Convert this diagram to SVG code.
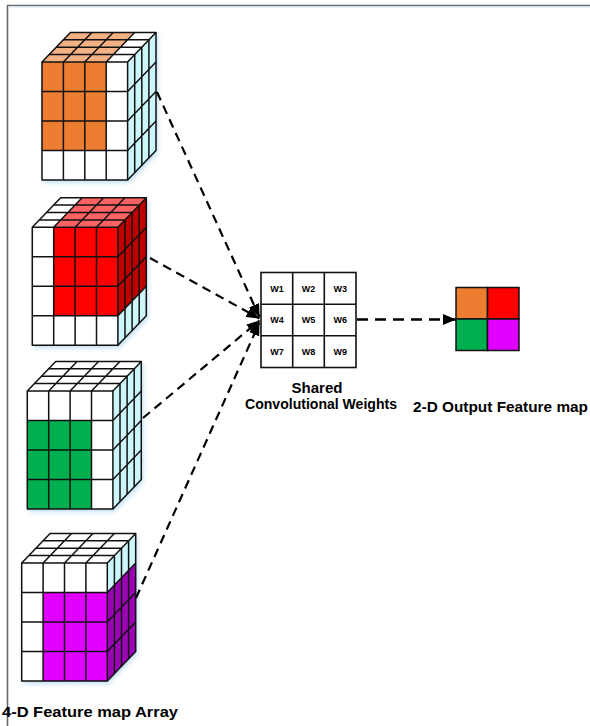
<svg xmlns="http://www.w3.org/2000/svg" xmlns:xlink="http://www.w3.org/1999/xlink" width="590" height="726" viewBox="0 0 590 726">
  <style>
    .grid { fill: none; stroke: #111; stroke-width: 1.5; stroke-linejoin: round; }
    .white { fill: #ffffff; }
    .cyan { fill: #cdf6fb; }
    .dash { fill: none; stroke: #000; stroke-width: 2.2; stroke-dasharray: 9 6; }
    .dash-out { fill: none; stroke: #000; stroke-width: 2.6; stroke-dasharray: 11 7; }
    .cell { stroke: #111; stroke-width: 1.5; }
    .w { font-family: "Liberation Sans", Arial, sans-serif; font-weight: bold; font-size: 9px; fill: #000; text-anchor: middle; }
    .label { font-family: "Liberation Sans", Arial, sans-serif; font-weight: bold; font-size: 15px; fill: #000; }
  </style>
  <defs>
    <marker id="head" viewBox="0 0 13 11" refX="13" refY="5.5" markerWidth="13" markerHeight="11" markerUnits="userSpaceOnUse" orient="auto">
      <path d="M0,0 L13,5.5 L0,11 Z" fill="#000"/>
    </marker>
    <filter id="glow" x="-20%" y="-20%" width="140%" height="140%">
      <feGaussianBlur stdDeviation="2.5"/>
    </filter>
    <!-- silhouette used for the soft blue shadow behind each cube -->
    <path id="silhouette" d="M0,0 L28.4,-29.6 H114 V88.4 L85.6,118 H0 Z"/>
    <!-- 4x4x4 block outline and cell lines, origin at front top-left corner -->
    <g id="cube-grid" class="grid">
      <path d="M0,0 H85.6 V118 H0 Z"/>
      <path d="M0,0 L28.4,-29.6 H114 L85.6,0"/>
      <path d="M114,-29.6 V88.4 L85.6,118"/>
      <path d="M21.4,0 V118 M42.8,0 V118 M64.2,0 V118 M0,29.5 H85.6 M0,59 H85.6 M0,88.5 H85.6"/>
      <path d="M7.1,-7.4 H92.7 M14.2,-14.8 H99.8 M21.3,-22.2 H106.9 M21.4,0 L49.8,-29.6 M42.8,0 L71.2,-29.6 M64.2,0 L92.6,-29.6"/>
      <path d="M92.7,-7.4 V110.6 M99.8,-14.8 V103.2 M106.9,-22.2 V95.8 M85.6,29.5 L114,-0.1 M85.6,59 L114,29.4 M85.6,88.5 L114,58.9"/>
    </g>
    <!-- plain faces -->
    <g id="cube-base">
      <rect class="white" x="0" y="0" width="85.6" height="118"/>
      <path class="white" d="M0,0 L28.4,-29.6 H114 L85.6,0 Z"/>
      <path class="cyan" d="M85.6,0 L114,-29.6 V88.4 L85.6,118 Z"/>
    </g>
  </defs>

  <!-- frame -->
  <path d="M7.5,726 V5.5 H590" fill="none" stroke="#6a6a6a" stroke-width="1.6"/>
  <path d="M8.5,7.5 H590" fill="none" stroke="#e6f2fb" stroke-width="1.5"/>

  <!-- input feature maps -->
  <g id="map-orange" transform="translate(42,62)">
    <use xlink:href="#silhouette" fill="#b9dcf2" filter="url(#glow)" transform="translate(1.5,2.5)"/>
    <use xlink:href="#cube-base"/>
    <rect x="0" y="0" width="64.2" height="88.5" fill="#ed7d31"/>
    <path d="M0,0 L28.4,-29.6 H92.6 L64.2,0 Z" fill="#f4b183"/>
    <use xlink:href="#cube-grid"/>
  </g>

  <g id="map-red" transform="translate(32.3,227.3)">
    <use xlink:href="#silhouette" fill="#b9dcf2" filter="url(#glow)" transform="translate(1.5,2.5)"/>
    <use xlink:href="#cube-base"/>
    <rect x="21.4" y="0" width="64.2" height="88.5" fill="#ff0000"/>
    <path d="M21.4,0 L49.8,-29.6 H114 L85.6,0 Z" fill="#ff6262"/>
    <path d="M85.6,0 L114,-29.6 V58.9 L85.6,88.5 Z" fill="#c00000"/>
    <use xlink:href="#cube-grid"/>
  </g>

  <g id="map-green" transform="translate(27.3,391)">
    <use xlink:href="#silhouette" fill="#b9dcf2" filter="url(#glow)" transform="translate(1.5,2.5)"/>
    <use xlink:href="#cube-base"/>
    <rect x="0" y="29.5" width="64.2" height="88.5" fill="#00b050"/>
    <use xlink:href="#cube-grid"/>
  </g>

  <g id="map-magenta" transform="translate(21.7,563)">
    <use xlink:href="#silhouette" fill="#b9dcf2" filter="url(#glow)" transform="translate(1.5,2.5)"/>
    <use xlink:href="#cube-base"/>
    <rect x="21.4" y="29.5" width="64.2" height="88.5" fill="#e100ff"/>
    <path d="M85.6,29.5 L114,-0.1 V88.4 L85.6,118 Z" fill="#9c00b4"/>
    <use xlink:href="#cube-grid"/>
  </g>

  <!-- shared 3x3 kernel -->
  <g id="weights">
    <rect x="261" y="272.5" width="95" height="95" fill="#fff" stroke="#111" stroke-width="1.6"/>
    <path d="M292.7,272.5 V367.5 M324.3,272.5 V367.5 M261,304.2 H356 M261,335.8 H356" stroke="#111" stroke-width="1.6"/>
    <text class="w" x="277" y="291.5">W1</text>
    <text class="w" x="308.5" y="291.5">W2</text>
    <text class="w" x="340.2" y="291.5">W3</text>
    <text class="w" x="277" y="323">W4</text>
    <text class="w" x="308.5" y="323">W5</text>
    <text class="w" x="340.2" y="323">W6</text>
    <text class="w" x="277" y="354.5">W7</text>
    <text class="w" x="308.5" y="354.5">W8</text>
    <text class="w" x="340.2" y="354.5">W9</text>
  </g>

  <!-- 2x2 output -->
  <g id="output">
    <rect class="cell" x="456" y="287.5" width="31.5" height="31.5" fill="#ed7d31"/>
    <rect class="cell" x="487.5" y="287.5" width="31.5" height="31.5" fill="#ff0000"/>
    <rect class="cell" x="456" y="319" width="31.5" height="31.5" fill="#00b050"/>
    <rect class="cell" x="487.5" y="319" width="31.5" height="31.5" fill="#e100ff"/>
  </g>

  <!-- connectors -->
  <g id="connectors">
    <path class="dash" d="M157,92 L259.5,317" marker-end="url(#head)"/>
    <path class="dash" d="M150,258 L259.5,318.5" marker-end="url(#head)"/>
    <path class="dash" d="M143,418 L259.5,320.5" marker-end="url(#head)"/>
    <path class="dash" d="M136,598 L259.5,322.5" marker-end="url(#head)"/>
    <path class="dash-out" d="M357,319.5 L456,319.5" marker-end="url(#head)"/>
  </g>

  <!-- captions -->
  <g id="captions">
    <text class="label" x="317" y="393" text-anchor="middle" textLength="51" lengthAdjust="spacingAndGlyphs">Shared</text>
    <text class="label" x="245" y="409" textLength="152" lengthAdjust="spacingAndGlyphs">Convolutional Weights</text>
    <text class="label" x="413" y="411.5" textLength="175" lengthAdjust="spacingAndGlyphs">2-D Output Feature map</text>
    <text class="label" x="2" y="716.5" textLength="176" lengthAdjust="spacingAndGlyphs">4-D Feature map Array</text>
  </g>
</svg>
